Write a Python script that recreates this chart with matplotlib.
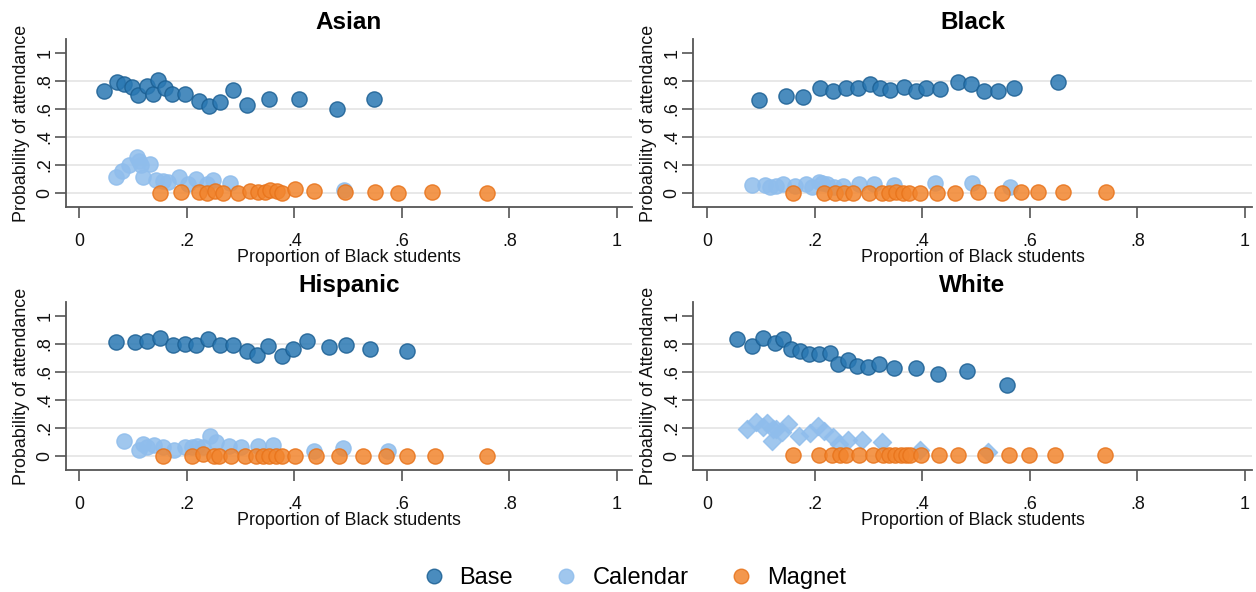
import matplotlib
matplotlib.use("Agg")
import matplotlib.pyplot as plt
from matplotlib.lines import Line2D

plt.rcParams['font.family'] = ['Liberation Sans', 'DejaVu Sans']

# ---------------- data ----------------
panels = ["Asian", "Black", "Hispanic", "White"]
ylabels = ["Probability of attendance", "Probability of attendance",
           "Probability of attendance", "Probability of Attendance"]

asian_base_x = [0.046, 0.070, 0.083, 0.098, 0.110, 0.126, 0.138, 0.146, 0.160, 0.172,
                0.197, 0.222, 0.241, 0.262, 0.286, 0.313, 0.353, 0.408, 0.479, 0.548]
asian_base_y = [0.726, 0.795, 0.776, 0.759, 0.702, 0.764, 0.709, 0.805, 0.752, 0.709,
                0.709, 0.656, 0.620, 0.649, 0.733, 0.628, 0.675, 0.675, 0.601, 0.668]
asian_cal_x = [0.069, 0.079, 0.093, 0.108, 0.112, 0.115, 0.119, 0.131, 0.143, 0.155,
               0.166, 0.185, 0.202, 0.217, 0.237, 0.249, 0.281, 0.492]
asian_cal_y = [0.115, 0.158, 0.201, 0.254, 0.230, 0.201, 0.117, 0.208, 0.093, 0.089,
               0.081, 0.115, 0.062, 0.101, 0.062, 0.093, 0.069, 0.022]
asian_mag_x = [0.150, 0.190, 0.223, 0.237, 0.252, 0.268, 0.296, 0.317, 0.332, 0.345,
               0.355, 0.368, 0.377, 0.401, 0.437, 0.494, 0.550, 0.592, 0.657, 0.759]
asian_mag_y = [0.002, 0.004, 0.004, 0.000, 0.012, 0.000, 0.002, 0.017, 0.004, 0.006,
               0.022, 0.017, 0.000, 0.029, 0.017, 0.004, 0.004, 0.002, 0.004, 0.000]

black_base_x = [0.097, 0.147, 0.179, 0.210, 0.235, 0.258, 0.281, 0.303, 0.322, 0.340,
                0.366, 0.389, 0.407, 0.434, 0.467, 0.490, 0.514, 0.541, 0.571, 0.652]
black_base_y = [0.666, 0.695, 0.687, 0.747, 0.731, 0.752, 0.752, 0.778, 0.747, 0.735,
                0.759, 0.731, 0.750, 0.740, 0.793, 0.781, 0.731, 0.731, 0.750, 0.795]
black_cal_x = [0.083, 0.107, 0.117, 0.128, 0.141, 0.163, 0.184, 0.196, 0.208, 0.213,
               0.223, 0.236, 0.253, 0.282, 0.311, 0.348, 0.423, 0.493, 0.563]
black_cal_y = [0.055, 0.057, 0.046, 0.050, 0.062, 0.050, 0.062, 0.041, 0.081, 0.069,
               0.062, 0.046, 0.050, 0.062, 0.062, 0.057, 0.069, 0.074, 0.043]
black_mag_x = [0.159, 0.218, 0.238, 0.254, 0.271, 0.301, 0.325, 0.338, 0.352, 0.364,
               0.376, 0.395, 0.427, 0.461, 0.503, 0.549, 0.583, 0.615, 0.662, 0.742]
black_mag_y = [0.000, 0.000, 0.000, 0.000, 0.000, 0.000, 0.002, 0.002, 0.004, 0.002,
               0.002, 0.002, 0.000, 0.002, 0.004, 0.002, 0.007, 0.004, 0.004, 0.010]

hisp_base_x = [0.069, 0.104, 0.127, 0.150, 0.174, 0.196, 0.218, 0.239, 0.261, 0.286,
               0.312, 0.331, 0.352, 0.378, 0.397, 0.424, 0.465, 0.496, 0.541, 0.609]
hisp_base_y = [0.817, 0.817, 0.819, 0.840, 0.793, 0.800, 0.790, 0.833, 0.793, 0.793,
               0.750, 0.721, 0.783, 0.717, 0.762, 0.824, 0.776, 0.790, 0.762, 0.748]
hisp_cal_x = [0.083, 0.112, 0.119, 0.127, 0.140, 0.155, 0.177, 0.196, 0.209, 0.220,
              0.231, 0.243, 0.255, 0.278, 0.300, 0.332, 0.361, 0.436, 0.490, 0.574]
hisp_cal_y = [0.110, 0.045, 0.083, 0.062, 0.079, 0.062, 0.043, 0.062, 0.062, 0.074,
              0.062, 0.140, 0.098, 0.069, 0.062, 0.074, 0.081, 0.038, 0.055, 0.038]
hisp_mag_x = [0.156, 0.209, 0.231, 0.250, 0.260, 0.282, 0.308, 0.329, 0.341, 0.353,
              0.366, 0.377, 0.401, 0.441, 0.483, 0.528, 0.570, 0.610, 0.661, 0.758]
hisp_mag_y = [0.002, 0.002, 0.012, 0.002, 0.002, 0.002, 0.002, 0.002, 0.002, 0.002,
              0.002, 0.002, 0.002, 0.002, 0.002, 0.002, 0.002, 0.002, 0.002, 0.002]

white_base_x = [0.056, 0.083, 0.104, 0.127, 0.141, 0.157, 0.173, 0.190, 0.208, 0.228,
                0.243, 0.262, 0.279, 0.300, 0.320, 0.348, 0.388, 0.429, 0.484, 0.557]
white_base_y = [0.836, 0.783, 0.840, 0.807, 0.833, 0.764, 0.752, 0.726, 0.726, 0.736,
                0.657, 0.688, 0.645, 0.633, 0.657, 0.629, 0.629, 0.583, 0.607, 0.507]
white_cal_x = [0.074, 0.091, 0.104, 0.112, 0.121, 0.122, 0.129, 0.139, 0.151, 0.171,
               0.192, 0.206, 0.218, 0.235, 0.246, 0.262, 0.289, 0.326, 0.396, 0.523]
white_cal_y = [0.193, 0.240, 0.210, 0.233, 0.110, 0.190, 0.193, 0.174, 0.226, 0.140,
               0.164, 0.217, 0.176, 0.133, 0.086, 0.114, 0.114, 0.102, 0.045, 0.031]
white_mag_x = [0.159, 0.208, 0.232, 0.248, 0.258, 0.282, 0.309, 0.327, 0.338, 0.349,
               0.360, 0.370, 0.378, 0.397, 0.431, 0.467, 0.516, 0.561, 0.598, 0.647, 0.739]
white_mag_y = [0.007] * 21

series_names = ["Base", "Calendar", "Magnet"]
xticks = [0, 0.2, 0.4, 0.6, 0.8, 1]
xticklabels = ["0", ".2", ".4", ".6", ".8", "1"]
yticks = [0, 0.2, 0.4, 0.6, 0.8, 1]
yticklabels = ["0", ".2", ".4", ".6", ".8", "1"]
gridvals = [0, 0.2, 0.4, 0.6, 0.8]

data = {
    "Asian": [(asian_base_x, asian_base_y), (asian_cal_x, asian_cal_y), (asian_mag_x, asian_mag_y)],
    "Black": [(black_base_x, black_base_y), (black_cal_x, black_cal_y), (black_mag_x, black_mag_y)],
    "Hispanic": [(hisp_base_x, hisp_base_y), (hisp_cal_x, hisp_cal_y), (hisp_mag_x, hisp_mag_y)],
    "White": [(white_base_x, white_base_y), (white_cal_x, white_cal_y), (white_mag_x, white_mag_y)],
}

# ---------------- style ----------------
face = ["#2a78b3", "#8fbdec", "#f2852e"]
edge = ["#1b5f93", "#8fbdec", "#e8731a"]
W, H = 1256, 592
fig = plt.figure(figsize=(W / 100, H / 100), dpi=100)

rects_px = {
    "Asian": (66, 39, 632, 207),
    "Black": (693, 39, 1252, 207),
    "Hispanic": (66, 302, 632, 470),
    "White": (693, 302, 1252, 470),
}
xlims = {"Asian": (-0.0245, 1.028), "Hispanic": (-0.0245, 1.028),
         "Black": (-0.026, 1.013), "White": (-0.026, 1.013)}

spine_col = "#555555"
for name, ylab in zip(panels, ylabels):
    l, t, r, b = rects_px[name]
    ax = fig.add_axes([l / W, 1 - b / H, (r - l) / W, (b - t) / H])
    for g in gridvals:
        ax.axhline(g, color="#e6e6e6", lw=1.3, zorder=0)
    for i, (xs, ys) in enumerate(data[name]):
        marker = "D" if (name == "White" and i == 1) else "o"
        size = 85 if marker == "D" else 120
        ax.scatter(xs, ys, s=size, marker=marker, facecolor=face[i],
                   edgecolor=edge[i], linewidths=1.0, alpha=0.85, zorder=2 + i)
    ax.set_xlim(*xlims[name])
    ax.set_ylim(-0.1, 1.1)
    ax.set_xticks(xticks)
    ax.set_xticklabels(xticklabels)
    ax.set_yticks(yticks)
    ax.set_yticklabels(yticklabels, rotation=90, va="center")
    ax.tick_params(axis="both", direction="out", length=8, width=1.2,
                   color=spine_col, labelsize=12.9, labelcolor="#111111")
    ax.tick_params(axis="x", pad=11)
    ax.tick_params(axis="y", pad=1)
    for s in ["top", "right"]:
        ax.spines[s].set_visible(False)
    for s in ["left", "bottom"]:
        ax.spines[s].set_color(spine_col)
        ax.spines[s].set_linewidth(1.3)
    ax.set_xlabel("Proportion of Black students", fontsize=12.9, labelpad=-1, color="#111111")
    ax.set_ylabel(ylab, fontsize=12.9, labelpad=5, color="#111111")
    ax.set_title(name, fontsize=17.5, fontweight="bold", pad=7)

handles = [Line2D([0], [0], marker="o", linestyle="none", markersize=10.5,
                  markerfacecolor=face[i], markeredgecolor=edge[i], alpha=0.85)
           for i in range(3)]
fig.legend(handles, series_names, loc="center", bbox_to_anchor=(0.502, 1 - 578 / H),
           ncol=3, frameon=False, fontsize=17, handletextpad=0.3,
           columnspacing=1.45, handlelength=1.6)

fig.savefig("out.png", dpi=100, facecolor="white")
